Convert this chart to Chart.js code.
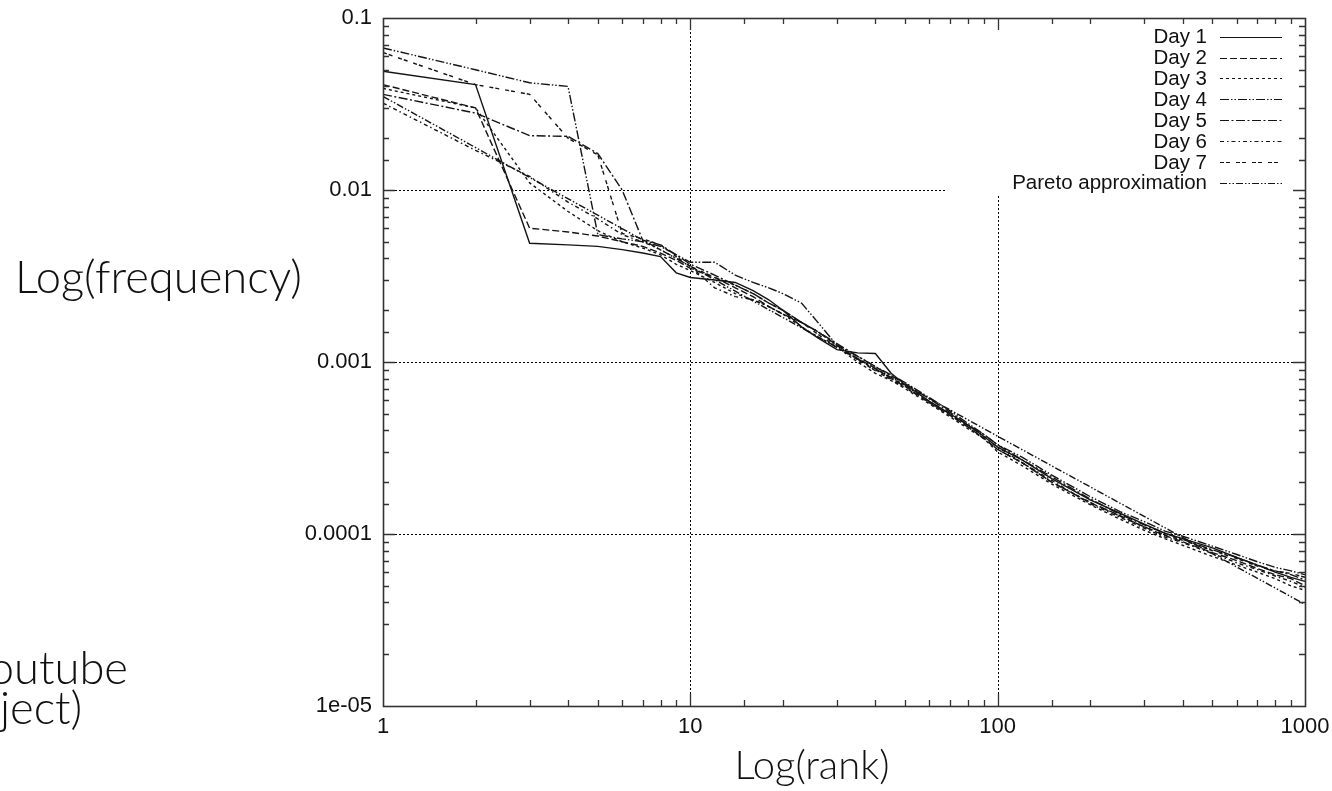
<!DOCTYPE html>
<html><head><meta charset="utf-8">
<script src="https://cdn.jsdelivr.net/npm/chart.js@4.4.1/dist/chart.umd.min.js"></script>
<style>
html,body{margin:0;padding:0;background:#fff;overflow:hidden;width:1332px;height:791px;}
#wrap{position:relative;width:1332px;height:791px;overflow:hidden;}
canvas{position:absolute;left:0;top:0;}
.t{position:absolute;font-family:'Lato','Open Sans',sans-serif;font-weight:300;color:#111;white-space:nowrap;}
</style></head><body>
<div id="wrap"><canvas id="c" width="1332" height="791"></canvas>
<div class="t" id="yl">Log(frequency)</div>
<div class="t" id="xl">Log(rank)</div>
<div class="t" id="s1">outube</div>
<div class="t" id="s2">ject)</div>
</div>
<script>
const ranks = [1,2,3,4,5,6,7,8,9,10,12,14,16,18,20,23,26,30,35,40,45,50,60,70,80,90,100,120,150,200,250,300,350,400,500,600,700,800,900,1000];
const day1 = [0.049,0.041,0.0049,0.0048,0.0047,0.0045,0.0043,0.0041,0.0033,0.0031,0.0030,0.0029,0.0026,0.0023,0.0020,0.0016,0.00138,0.00118,0.00113,0.00112,0.00086,0.00074,0.00059,0.00050,0.00043,0.00037,0.00032,0.00027,0.00021,0.000158,0.000132,0.000114,0.000101,0.000094,0.000083,0.000073,0.000066,0.000060,0.000056,0.000053];
const day2 = [0.041,0.030,0.0060,0.0057,0.0054,0.0050,0.0047,0.0043,0.0039,0.0035,0.0031,0.0027,0.0024,0.0021,0.0019,0.0017,0.0015,0.00125,0.00105,0.00092,0.00080,0.00072,0.00058,0.00049,0.00042,0.00036,0.00031,0.00026,0.000200,0.000152,0.000128,0.000110,0.000098,0.000090,0.000078,0.000070,0.000063,0.000058,0.000055,0.000050];
const day3 = [0.039,0.030,0.011,0.0075,0.0058,0.0050,0.0046,0.0042,0.0037,0.0034,0.0029,0.0025,0.0023,0.0021,0.0019,0.0016,0.0014,0.00122,0.00100,0.00086,0.00078,0.00070,0.00057,0.00048,0.00041,0.00036,0.00030,0.00025,0.000195,0.000148,0.000122,0.000105,0.000094,0.000086,0.000074,0.000066,0.000060,0.000055,0.000050,0.000047];
const day4 = [0.067,0.050,0.042,0.040,0.0055,0.0052,0.0050,0.0047,0.0042,0.0038,0.0038,0.0032,0.0029,0.0027,0.0025,0.0022,0.0017,0.00125,0.00108,0.00094,0.00084,0.00076,0.00062,0.00052,0.00044,0.00038,0.00033,0.00028,0.00022,0.000165,0.000135,0.000118,0.000104,0.000097,0.000085,0.000076,0.000069,0.000064,0.000061,0.000058];
const day5 = [0.036,0.028,0.0207,0.0205,0.0163,0.0100,0.0051,0.0048,0.0042,0.0037,0.0032,0.0028,0.0025,0.0022,0.0020,0.0017,0.0015,0.00128,0.00108,0.00094,0.00083,0.00075,0.00061,0.00051,0.00043,0.00038,0.00033,0.00027,0.000215,0.000160,0.000130,0.000113,0.000101,0.000093,0.000081,0.000073,0.000066,0.000061,0.000058,0.000054];
const day6 = [0.032,0.017,0.012,0.0085,0.0068,0.0055,0.0050,0.0045,0.0040,0.0036,0.0027,0.0024,0.0023,0.0021,0.0019,0.0017,0.0015,0.00125,0.00104,0.00090,0.00081,0.00073,0.00059,0.00050,0.00043,0.00037,0.00032,0.00026,0.000205,0.000150,0.000125,0.000108,0.000096,0.000089,0.000077,0.000068,0.000062,0.000057,0.000053,0.000049];
const day7 = [0.063,0.041,0.036,0.020,0.016,0.0056,0.0052,0.0048,0.0041,0.0036,0.0031,0.0028,0.0025,0.0022,0.0020,0.0017,0.00145,0.00122,0.00103,0.00089,0.00079,0.00071,0.00058,0.00049,0.00042,0.00036,0.00031,0.00026,0.00020,0.000153,0.000127,0.000110,0.000099,0.000092,0.000080,0.000072,0.000065,0.000061,0.000059,0.000056];
const paretoRanks = [1,10,100,1000];
const paretoValues = [0.035,0.0036,0.00037,0.000039];
const seriesLabels = ['Day 1','Day 2','Day 3','Day 4','Day 5','Day 6','Day 7','Pareto approximation'];
const xTickLabels = ['1','10','100','1000'];
const yTickLabels = ['1e-05','0.0001','0.001','0.01','0.1'];

const dashes = [[],[7,3],[3,3],[9,2,1.5,2,1.5,2],[9,2.5,2,2.5],[4,3,1.5,3],[4,2,4,6],[7,2,1.5,2,1.5,2]];
const daySeries = [day1,day2,day3,day4,day5,day6,day7];
const LINE = '#141414';

const datasets = daySeries.map((vals,i)=>({
  label: seriesLabels[i],
  data: ranks.map((r,j)=>({x:r,y:vals[j]})),
  borderColor: LINE, borderWidth: 1.4, borderDash: dashes[i],
  pointRadius: 0, fill: false, tension: 0
}));
datasets.push({
  label: seriesLabels[7],
  data: paretoRanks.map((r,j)=>({x:r,y:paretoValues[j]})),
  borderColor: LINE, borderWidth: 1.4, borderDash: dashes[7],
  pointRadius: 0, fill: false, tension: 0
});

function isDecade(v){const l=Math.log10(v);return Math.abs(l-Math.round(l))<1e-9;}
const TICKFONT = {family:"'Liberation Sans', Arial, sans-serif", size:22};

const framePlugin = {
  id:'frame',
  beforeDatasetsDraw(chart){
    const {ctx, chartArea:a, scales:{x,y}} = chart;
    const legLeft = a.right - 360, legBottom = a.top + 177;
    ctx.save();
    ctx.strokeStyle = '#000'; ctx.lineWidth = 1; ctx.setLineDash([2,2]);
    x.ticks.forEach(t=>{
      if(!isDecade(t.value)) return;
      const px = Math.round(x.getPixelForValue(t.value))+0.5;
      if(px<=a.left+1||px>=a.right-1) return;
      const top = px>legLeft ? legBottom : a.top;
      ctx.beginPath(); ctx.moveTo(px,a.bottom); ctx.lineTo(px,top); ctx.stroke();
    });
    y.ticks.forEach(t=>{
      if(!isDecade(t.value)) return;
      const py = Math.round(y.getPixelForValue(t.value))+0.5;
      if(py<=a.top+1||py>=a.bottom-1) return;
      const right = py<legBottom ? legLeft : a.right;
      ctx.beginPath(); ctx.moveTo(a.left,py); ctx.lineTo(right,py); ctx.stroke();
    });
    ctx.restore();
  },
  afterDatasetsDraw(chart){
    const {ctx, chartArea:a, scales:{x,y}} = chart;
    ctx.save();
    ctx.strokeStyle = '#333'; ctx.lineWidth = 1.3; ctx.setLineDash([]);
    x.ticks.forEach(t=>{
      const px = Math.round(x.getPixelForValue(t.value))+0.5;
      if(px<=a.left+1||px>=a.right-1) return;
      const len = isDecade(t.value)?12:6;
      ctx.beginPath(); ctx.moveTo(px,a.bottom); ctx.lineTo(px,a.bottom-len);
      ctx.moveTo(px,a.top); ctx.lineTo(px,a.top+len); ctx.stroke();
    });
    y.ticks.forEach(t=>{
      const py = Math.round(y.getPixelForValue(t.value))+0.5;
      if(py<=a.top+1||py>=a.bottom-1) return;
      const len = isDecade(t.value)?12:6;
      ctx.beginPath(); ctx.moveTo(a.left,py); ctx.lineTo(a.left+len,py);
      ctx.moveTo(a.right,py); ctx.lineTo(a.right-len,py); ctx.stroke();
    });
    ctx.lineWidth = 1.6; ctx.strokeStyle='#333';
    ctx.strokeRect(Math.round(a.left)+0.5, Math.round(a.top)+0.5, Math.round(a.right-a.left), Math.round(a.bottom-a.top));
    ctx.font = "20.5px 'Liberation Sans', Arial, sans-serif";
    ctx.fillStyle = '#111'; ctx.textAlign='right'; ctx.textBaseline='middle';
    chart.data.datasets.forEach((ds,i)=>{
      const ly = a.top + 18.7 + i*20.86;
      ctx.fillText(ds.label, a.right-98, ly+1);
      ctx.save();
      ctx.strokeStyle = ds.borderColor; ctx.lineWidth = 1.2; ctx.setLineDash(ds.borderDash);
      ctx.beginPath(); ctx.moveTo(a.right-85, Math.round(ly)+0.5); ctx.lineTo(a.right-23, Math.round(ly)+0.5); ctx.stroke();
      ctx.restore();
    });
    ctx.restore();
  }
};

new Chart(document.getElementById('c'), {
  type:'line',
  data:{datasets},
  options:{
    responsive:false, animation:false, devicePixelRatio:1,
    layout:{padding:{top:18,right:27,left:0,bottom:0}},
    plugins:{legend:{display:false},tooltip:{enabled:false}},
    scales:{
      x:{type:'logarithmic',min:1,max:1000,
        afterFit(s){s.height=85; s.paddingLeft=0; s.paddingRight=0;},
        grid:{display:false,drawTicks:false},
        border:{display:false},
        ticks:{autoSkip:false,maxRotation:0,padding:8,color:'#111',font:TICKFONT,
          callback:(v)=>isDecade(v)?xTickLabels[Math.round(Math.log10(v))]:''}
      },
      y:{type:'logarithmic',min:1e-5,max:0.1,
        afterFit(s){s.width=383; s.paddingTop=0; s.paddingBottom=0;},
        grid:{display:false,drawTicks:false},
        border:{display:false},
        ticks:{autoSkip:false,padding:11,color:'#111',font:TICKFONT,
          callback:(v)=>isDecade(v)?yTickLabels[Math.round(Math.log10(v))+5]:''}
      }
    }
  },
  plugins:[framePlugin]
});

function place(id, size, opts){
  const el = document.getElementById(id);
  el.style.fontSize = size+'px';
  el.style.lineHeight = size+'px';
  const c = document.createElement('canvas').getContext('2d');
  c.font = "300 "+size+"px 'Lato','Open Sans',sans-serif";
  const m = c.measureText(el.textContent);
  const asc = m.fontBoundingBoxAscent||size*0.8, desc = m.fontBoundingBoxDescent||size*0.2;
  const baseOff = (size-(asc+desc))/2 + asc;
  const w = el.getBoundingClientRect().width;
  let left;
  if(opts.left!==undefined) left = opts.left;
  else if(opts.center!==undefined) left = opts.center - w/2;
  else left = opts.right - w;
  el.style.left = left+'px';
  el.style.top = (opts.baseline - baseOff)+'px';
}
function fitSize(text, target){
  const c = document.createElement('canvas').getContext('2d');
  c.font = "300 100px 'Lato','Open Sans',sans-serif";
  return 100*target/c.measureText(text).width;
}
function layoutText(){
  const s = fitSize('Log(frequency)', 287);
  place('yl', s, {left:15, baseline:293});
  place('xl', fitSize('Log(rank)',155), {center:812, baseline:780});
  place('s1', s, {right:128, baseline:684});
  place('s2', s, {left:0, baseline:724});
}
if(document.fonts && document.fonts.load){
  Promise.all([document.fonts.load("300 40px 'Lato'")]).then(layoutText, layoutText);
} else layoutText();
layoutText();
</script>
</body></html>
